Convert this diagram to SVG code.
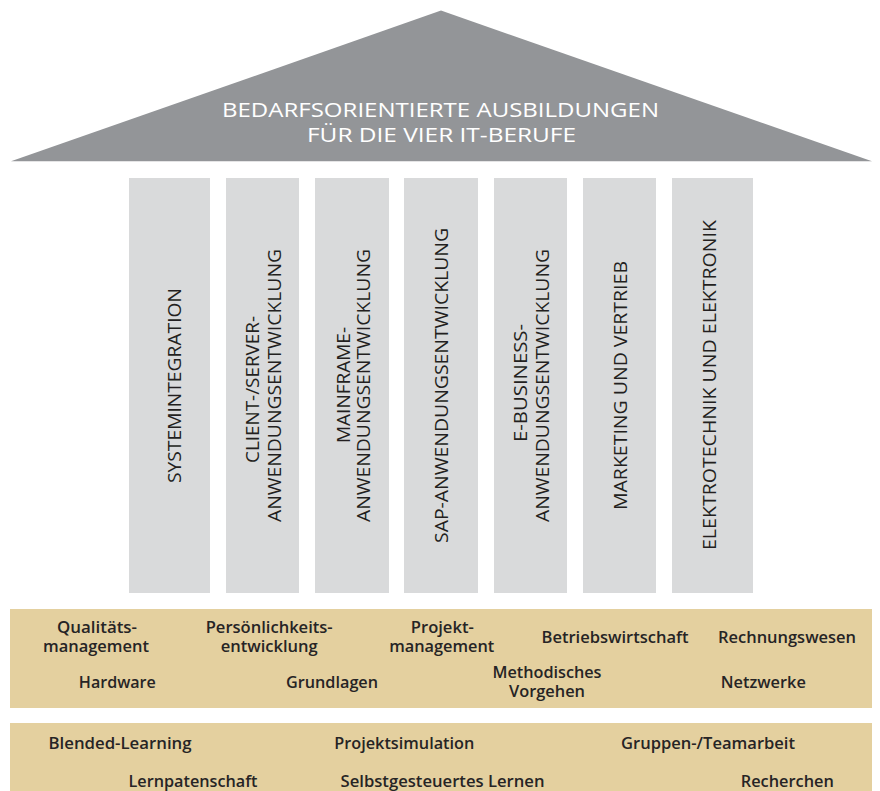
<svg xmlns="http://www.w3.org/2000/svg" width="880" height="791" viewBox="0 0 880 791">
<style>
.roof{fill:#939598}
.roof-t{fill:#ffffff;font-family:"Open Sans","DejaVu Sans",sans-serif;font-size:19.5px;text-anchor:middle}
.pillar{fill:#d9dadb}
.pt{fill:#231f20;font-family:"Open Sans","DejaVu Sans",sans-serif;font-size:17.5px;text-anchor:middle}
.band{fill:#e4d09f}
.bt{fill:#262425;font-family:"Open Sans","DejaVu Sans",sans-serif;font-size:16px;font-weight:600;text-anchor:middle}
</style>
<rect width="880" height="791" fill="#ffffff"/>
<g id="roof">
<polygon class="roof" points="11,161.3 441,10.6 872,161.3"/>
<text class="roof-t" x="440.5" y="117.3" textLength="437" lengthAdjust="spacingAndGlyphs">BEDARFSORIENTIERTE AUSBILDUNGEN</text>
<text class="roof-t" x="441.5" y="141.7" textLength="269" lengthAdjust="spacingAndGlyphs">FÜR DIE VIER IT-BERUFE</text>
</g>
<g id="pillar-1">
<rect class="pillar" x="129" y="178" width="81" height="415"/>
<text class="pt" transform="translate(181,385.5) rotate(-90)" textLength="195" lengthAdjust="spacingAndGlyphs">SYSTEMINTEGRATION</text>
</g>
<g id="pillar-2">
<rect class="pillar" x="226" y="178" width="73" height="415"/>
<text class="pt" transform="translate(259.3,389.5) rotate(-90)" textLength="147" lengthAdjust="spacingAndGlyphs">CLIENT-/SERVER-</text>
<text class="pt" transform="translate(280.7,385.5) rotate(-90)" textLength="273" lengthAdjust="spacingAndGlyphs">ANWENDUNGSENTWICKLUNG</text>
</g>
<g id="pillar-3">
<rect class="pillar" x="315" y="178" width="74" height="415"/>
<text class="pt" transform="translate(350,385) rotate(-90)" textLength="116" lengthAdjust="spacingAndGlyphs">MAINFRAME-</text>
<text class="pt" transform="translate(370,385.5) rotate(-90)" textLength="273" lengthAdjust="spacingAndGlyphs">ANWENDUNGSENTWICKLUNG</text>
</g>
<g id="pillar-4">
<rect class="pillar" x="404" y="178" width="74" height="415"/>
<text class="pt" transform="translate(448,385.5) rotate(-90)" textLength="315" lengthAdjust="spacingAndGlyphs">SAP-ANWENDUNGSENTWICKLUNG</text>
</g>
<g id="pillar-5">
<rect class="pillar" x="494" y="178" width="73" height="415"/>
<text class="pt" transform="translate(526.7,383) rotate(-90)" textLength="118" lengthAdjust="spacingAndGlyphs">E-BUSINESS-</text>
<text class="pt" transform="translate(549,385.5) rotate(-90)" textLength="273" lengthAdjust="spacingAndGlyphs">ANWENDUNGSENTWICKLUNG</text>
</g>
<g id="pillar-6">
<rect class="pillar" x="583" y="178" width="73" height="415"/>
<text class="pt" transform="translate(627,385.5) rotate(-90)" textLength="249" lengthAdjust="spacingAndGlyphs">MARKETING UND VERTRIEB</text>
</g>
<g id="pillar-7">
<rect class="pillar" x="672" y="178" width="81" height="415"/>
<text class="pt" transform="translate(716,385) rotate(-90)" textLength="330" lengthAdjust="spacingAndGlyphs">ELEKTROTECHNIK UND ELEKTRONIK</text>
</g>
<g id="band-subjects">
<rect class="band" x="10" y="609" width="862" height="99"/>
<g id="qualitaetsmanagement">
<text class="bt" x="97" y="633" textLength="80" lengthAdjust="spacingAndGlyphs">Qualitäts-</text>
<text class="bt" x="96" y="652" textLength="106" lengthAdjust="spacingAndGlyphs">management</text>
</g>
<g id="persoenlichkeitsentwicklung">
<text class="bt" x="269.2" y="633" textLength="127" lengthAdjust="spacingAndGlyphs">Persönlichkeits-</text>
<text class="bt" x="269.2" y="652" textLength="97" lengthAdjust="spacingAndGlyphs">entwicklung</text>
</g>
<g id="projektmanagement">
<text class="bt" x="442.3" y="633" textLength="63" lengthAdjust="spacingAndGlyphs">Projekt-</text>
<text class="bt" x="441.7" y="652" textLength="105" lengthAdjust="spacingAndGlyphs">management</text>
</g>
<g id="betriebswirtschaft">
<text class="bt" x="615" y="643" textLength="147" lengthAdjust="spacingAndGlyphs">Betriebswirtschaft</text>
</g>
<g id="rechnungswesen">
<text class="bt" x="787" y="643" textLength="138" lengthAdjust="spacingAndGlyphs">Rechnungswesen</text>
</g>
<g id="hardware">
<text class="bt" x="117.3" y="688" textLength="77" lengthAdjust="spacingAndGlyphs">Hardware</text>
</g>
<g id="grundlagen">
<text class="bt" x="332" y="688" textLength="92" lengthAdjust="spacingAndGlyphs">Grundlagen</text>
</g>
<g id="methodisches-vorgehen">
<text class="bt" x="547" y="678" textLength="109" lengthAdjust="spacingAndGlyphs">Methodisches</text>
<text class="bt" x="547" y="697" textLength="76" lengthAdjust="spacingAndGlyphs">Vorgehen</text>
</g>
<g id="netzwerke">
<text class="bt" x="763.3" y="688" textLength="85" lengthAdjust="spacingAndGlyphs">Netzwerke</text>
</g>
</g>
<g id="band-methods">
<rect class="band" x="10" y="723" width="862" height="70"/>
<g id="blended-learning"><text class="bt" x="120" y="749" textLength="143" lengthAdjust="spacingAndGlyphs">Blended-Learning</text></g>
<g id="projektsimulation"><text class="bt" x="404.3" y="749" textLength="140" lengthAdjust="spacingAndGlyphs">Projektsimulation</text></g>
<g id="gruppenarbeit"><text class="bt" x="708" y="749" textLength="174" lengthAdjust="spacingAndGlyphs">Gruppen-/Teamarbeit</text></g>
<g id="lernpatenschaft"><text class="bt" x="193" y="787" textLength="129" lengthAdjust="spacingAndGlyphs">Lernpatenschaft</text></g>
<g id="selbstgesteuertes-lernen"><text class="bt" x="442.5" y="787" textLength="204" lengthAdjust="spacingAndGlyphs">Selbstgesteuertes Lernen</text></g>
<g id="recherchen"><text class="bt" x="787.3" y="787" textLength="93" lengthAdjust="spacingAndGlyphs">Recherchen</text></g>
</g>
<g id="connectors"/>
</svg>
